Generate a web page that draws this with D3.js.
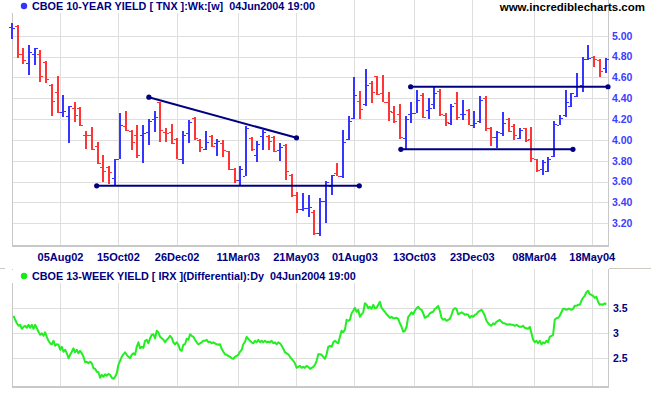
<!DOCTYPE html>
<html>
<head>
<meta charset="utf-8">
<script src="https://cdn.jsdelivr.net/npm/d3@7"></script>
<style>
  html, body { margin: 0; padding: 0; background: #fff; }
  svg { display: block; }
</style>
</head>
<body>
<div id="chart"></div>
<script>
(function() {
  'use strict';

  // --- Data ---
  var tnxTitle = 'CBOE 10-YEAR YIELD [ TNX ]:Wk:[w]\u00a0\u00a004Jun2004 19:00';
  var irxTitle = 'CBOE 13-WEEK YIELD [ IRX ](Differential):Dy\u00a0\u00a004Jun2004 19:00';
  var siteLabel = 'www.incrediblecharts.com';

  // weekly bars, one per week, first one ends Fri 07Jun02
  var firstWeek = '07Jun02';
  var weekOpen = [
    5.08,5.09,4.82,4.74,4.82,4.82,4.75,4.53,4.46,4.27,
    4.23,4.31,4.31,4.05,4.05,3.94,3.74,3.74,3.63,3.82,
    4.13,4.09,4.05,4.05,4.08,4.20,4.36,4.08,4.08,4.01,
    3.82,4.07,4.21,4.00,3.91,4.04,3.97,3.97,3.89,3.72,
    3.62,3.65,4.02,3.86,4.04,4.04,4.03,3.90,3.95,3.66,
    3.47,3.34,3.35,3.31,3.11,3.41,3.56,3.68,3.65,4.01,
    4.21,4.37,4.34,4.55,4.61,4.45,4.36,4.27,4.25,4.02,
    4.25,4.26,4.43,4.29,4.34,4.47,4.24,4.16,4.35,4.25,
    4.29,4.14,4.18,4.40,4.11,4.03,4.07,4.20,4.13,4.02,
    4.11,4.01,3.82,3.72,3.70,3.85,4.14,4.24,4.33,4.42,
    4.53,4.78,4.80,4.77,4.69
  ];
  var weekHigh = [
    5.12,5.10,4.88,4.91,4.88,4.86,4.76,4.54,4.61,4.43,
    4.33,4.36,4.32,4.09,4.12,3.98,3.86,3.75,3.82,4.26,
    4.28,4.10,4.14,4.14,4.20,4.28,4.36,4.11,4.15,4.02,
    4.09,4.19,4.22,4.01,4.09,4.05,4.01,4.00,3.89,3.73,
    3.75,4.13,4.03,3.99,4.10,4.05,4.04,3.97,3.96,3.67,
    3.50,3.49,3.47,3.33,3.44,3.61,3.66,3.78,4.10,4.23,
    4.60,4.47,4.68,4.57,4.61,4.62,4.46,4.33,4.34,4.23,
    4.36,4.48,4.45,4.40,4.51,4.49,4.26,4.34,4.46,4.38,
    4.30,4.28,4.42,4.42,4.12,4.09,4.27,4.21,4.15,4.11,
    4.11,4.12,3.82,3.81,3.84,4.18,4.24,4.48,4.45,4.64,
    4.80,4.91,4.81,4.78,4.79
  ];
  var weekLow = [
    4.97,4.79,4.73,4.62,4.72,4.56,4.55,4.23,4.26,4.22,
    3.97,4.17,4.13,3.91,3.90,3.77,3.60,3.58,3.57,3.82,
    4.09,3.90,3.83,3.78,3.95,4.08,3.98,3.98,3.96,3.82,
    3.77,3.97,4.00,3.88,3.90,3.93,3.85,3.84,3.71,3.59,
    3.56,3.65,3.89,3.79,3.90,3.90,3.88,3.80,3.62,3.45,
    3.30,3.32,3.26,3.09,3.08,3.20,3.47,3.65,3.63,4.00,
    4.20,4.20,4.33,4.35,4.43,4.36,4.18,4.16,4.01,3.91,
    4.16,4.26,4.21,4.20,4.30,4.23,4.13,4.14,4.19,4.19,
    4.14,4.11,4.16,4.09,3.94,3.92,4.04,4.08,4.00,4.01,
    3.98,3.79,3.69,3.66,3.69,3.84,4.14,4.22,4.32,4.41,
    4.46,4.77,4.70,4.60,4.64
  ];
  var weekClose = [
    5.07,4.82,4.77,4.84,4.88,4.61,4.58,4.37,4.27,4.28,
    4.33,4.24,4.14,4.05,3.91,3.78,3.70,3.69,3.82,4.14,
    4.10,3.98,3.86,4.07,4.18,4.22,4.10,4.07,3.97,3.82,
    4.05,4.17,4.02,3.93,3.98,3.94,3.99,3.90,3.72,3.62,
    3.72,4.11,3.91,3.96,4.08,3.99,3.89,3.93,3.70,3.47,
    3.34,3.35,3.36,3.11,3.41,3.60,3.66,3.65,3.98,4.18,
    4.43,4.30,4.53,4.46,4.44,4.36,4.28,4.18,4.03,4.20,
    4.26,4.38,4.22,4.31,4.45,4.25,4.17,4.33,4.22,4.25,
    4.14,4.16,4.38,4.11,4.03,4.08,4.16,4.09,4.05,4.10,
    4.00,3.83,3.71,3.79,3.82,4.15,4.21,4.36,4.45,4.52,
    4.78,4.79,4.78,4.66,4.78
  ];

  // daily 13-week yield, evenly spread from first to last day
  var irxFirstDay = '09Jun02';
  var irxLastDay = '05Jun04';
  var irxYield = [
    3.35,3.27,3.20,3.15,3.17,3.09,3.13,3.15,3.11,3.17,3.11,3.17,3.09,3.17,3.10,3.03,2.97,3.00,2.95,3.02,
    2.93,2.85,2.80,2.78,2.85,2.75,2.78,2.77,2.67,2.73,2.63,2.67,2.60,2.50,2.57,2.63,2.70,2.62,2.67,2.60,
    2.65,2.60,2.53,2.42,2.43,2.40,2.43,2.40,2.30,2.29,2.23,2.22,2.11,2.17,2.13,2.18,2.15,2.19,2.17,2.11,
    2.09,2.13,2.20,2.37,2.45,2.53,2.58,2.62,2.57,2.53,2.50,2.57,2.60,2.57,2.73,2.82,2.70,2.73,2.71,2.85,
    2.87,2.80,2.90,2.97,2.98,2.90,3.05,3.02,2.93,2.90,2.87,2.82,2.87,2.90,2.95,2.91,2.82,2.78,2.82,2.77,
    2.67,2.65,2.77,2.78,2.89,2.87,2.98,2.95,2.93,2.87,2.82,2.78,2.80,2.82,2.85,2.85,2.87,2.82,2.83,2.80,
    2.82,2.80,2.78,2.77,2.78,2.69,2.63,2.58,2.57,2.55,2.53,2.50,2.49,2.53,2.55,2.57,2.63,2.67,2.78,2.83,
    2.93,2.89,2.85,2.82,2.80,2.85,2.82,2.87,2.82,2.85,2.82,2.85,2.82,2.83,2.82,2.85,2.80,2.82,2.78,2.82,
    2.80,2.75,2.69,2.62,2.60,2.58,2.53,2.49,2.45,2.40,2.31,2.33,2.35,2.31,2.33,2.31,2.35,2.33,2.29,2.31,
    2.33,2.37,2.45,2.58,
    2.58,2.57,2.53,2.49,2.58,2.73,2.75,2.73,2.82,2.85,2.82,2.80,2.93,3.05,3.02,3.07,3.27,3.25,3.27,3.40,
    3.45,3.51,3.43,3.47,3.33,3.38,3.42,3.60,3.57,3.50,3.53,3.49,3.57,3.50,3.51,3.57,3.63,3.51,3.47,3.43,
    3.38,3.35,3.31,3.33,3.30,3.30,3.31,3.29,3.20,3.13,3.03,3.05,3.13,3.33,3.37,3.42,3.38,3.45,3.50,3.53,
    3.49,3.47,3.40,3.31,3.33,3.35,3.40,3.42,3.43,3.49,3.51,3.55,3.45,3.31,3.27,3.29,3.25,3.27,3.29,3.37,
    3.47,3.50,3.49,3.38,3.40,3.42,3.40,3.37,3.38,3.37,3.31,3.35,3.33,3.37,3.38,3.43,3.45,3.47,3.42,3.35,
    3.25,3.20,3.17,3.15,3.20,3.18,3.23,3.25,3.27,3.23,3.20,3.20,3.18,3.17,3.18,3.17,3.17,3.15,3.17,3.15,
    3.13,3.13,3.15,3.11,3.10,3.09,3.13,3.00,2.87,2.82,2.85,2.80,2.85,2.78,2.82,2.80,2.85,2.82,2.93,2.95,
    2.97,3.27,3.30,3.31,3.35,3.42,3.49,3.49,3.47,3.49,3.49,3.47,3.49,3.55,3.55,3.57,3.57,3.65,3.71,3.75,
    3.82,3.85,3.78,3.77,3.75,3.71,3.73,3.63,3.57,3.58,3.57,3.60,3.58
  ];

  var dateLabels = ['05Aug02', '15Oct02', '26Dec02', '11Mar03', '21May03',
                    '01Aug03', '13Oct03', '23Dec03', '08Mar04', '18May04'];
  var tnxTicks = [3.2, 3.4, 3.6, 3.8, 4.0, 4.2, 4.4, 4.6, 4.8, 5.0];
  var irxTicks = [2.5, 3, 3.5];

  // hand-drawn trend lines on the weekly chart
  var trendLines = [
    { from: '19Sep02', to: '07Aug03', start: 3.56, end: 3.56 },
    { from: '22Nov02', to: '22May03', start: 4.41, end: 4.02 },
    { from: '09Oct03', to: '07Jun04', start: 4.51, end: 4.51 },
    { from: '27Sep03', to: '25Apr04', start: 3.91, end: 3.91 }
  ];

  // --- Layout ---
  var width = 651, height = 395;
  var left = 12, right = 608;
  var top1 = 0, bottom1 = 246;
  var top2 = 269, bottom2 = 387;

  var font = '"Liberation Sans", Arial, sans-serif';
  var navy = '#000080';
  var gridColor = '#dedede';
  var frameColor = '#c8c8c8';
  var upColor = '#3535ff';
  var downColor = '#ff3535';

  var parse = d3.utcParse('%d%b%y');
  var labelDates = dateLabels.map(parse);

  var x = d3.scaleUtc()
    .domain([labelDates[0], labelDates[labelDates.length - 1]])
    .range([60, 591.7]);

  var yTnx = d3.scaleLinear().domain([3.2, 5.0]).range([223.3, 35.7]);
  var yIrx = d3.scaleLinear().domain([2.5, 3.5]).range([358.3, 308.3]);

  var svg = d3.select('#chart')
    .append('svg')
    .attr('width', width)
    .attr('height', height)
    .style('background', '#fff');

  // --- Panel grids ---
  function drawGrid(y, ticks, yTop, yBottom) {
    var g = svg.append('g');
    g.selectAll('line.h')
      .data(ticks)
      .join('line')
      .attr('class', 'h')
      .attr('x1', left).attr('x2', right)
      .attr('y1', function(d) { return Math.round(y(d)) + 0.5; })
      .attr('y2', function(d) { return Math.round(y(d)) + 0.5; })
      .style('stroke', gridColor);
    g.selectAll('line.v')
      .data(labelDates)
      .join('line')
      .attr('class', 'v')
      .attr('x1', function(d) { return Math.round(x(d)) + 0.5; })
      .attr('x2', function(d) { return Math.round(x(d)) + 0.5; })
      .attr('y1', yTop).attr('y2', yBottom)
      .style('stroke', gridColor);
    // frame: left, right, bottom
    g.append('line')
      .attr('x1', left + 0.5).attr('x2', left + 0.5)
      .attr('y1', yTop).attr('y2', yBottom)
      .style('stroke', frameColor);
    g.append('line')
      .attr('x1', right + 0.5).attr('x2', right + 0.5)
      .attr('y1', yTop).attr('y2', yBottom)
      .style('stroke', frameColor);
    g.append('line')
      .attr('x1', left).attr('x2', right + 1)
      .attr('y1', yBottom).attr('y2', yBottom)
      .style('stroke', frameColor)
      .style('stroke-width', 2);
  }

  drawGrid(yTnx, tnxTicks, top1, bottom1);
  drawGrid(yIrx, irxTicks, top2, bottom2);

  // separator between panels (only visible in margins)
  [[0, 5], [right + 1, width]].forEach(function(seg) {
    svg.append('line')
      .attr('x1', seg[0]).attr('x2', seg[1])
      .attr('y1', top2 - 0.5).attr('y2', top2 - 0.5)
      .style('stroke', '#cfcac0');
  });

  // --- Weekly bars ---
  var weekStart = parse(firstWeek);
  var bars = weekClose.map(function(c, i) {
    return {
      date: d3.utcDay.offset(weekStart, i * 7),
      open: weekOpen[i], high: weekHigh[i], low: weekLow[i], close: c,
      up: i === 0 || c >= weekClose[i - 1]
    };
  });

  var barG = svg.append('g')
    .selectAll('g')
    .data(bars)
    .join('g')
    .style('fill', function(d) { return d.up ? upColor : downColor; });

  barG.append('rect')
    .attr('x', function(d) { return Math.round(x(d.date)) - 1; })
    .attr('y', function(d) { return Math.round(yTnx(d.high)); })
    .attr('width', 2)
    .attr('height', function(d) { return Math.max(1, Math.round(yTnx(d.low)) - Math.round(yTnx(d.high))); });

  barG.append('rect')
    .attr('x', function(d) { return Math.round(x(d.date)) - 3; })
    .attr('y', function(d) { return Math.round(yTnx(d.open)); })
    .attr('width', 2)
    .attr('height', 1);

  barG.append('rect')
    .attr('x', function(d) { return Math.round(x(d.date)) + 1; })
    .attr('y', function(d) { return Math.round(yTnx(d.close)); })
    .attr('width', 2)
    .attr('height', 1);

  // --- Trend lines ---
  var tl = svg.append('g');
  tl.selectAll('line')
    .data(trendLines)
    .join('line')
    .attr('x1', function(d) { return x(parse(d.from)); })
    .attr('x2', function(d) { return x(parse(d.to)); })
    .attr('y1', function(d) { return yTnx(d.start); })
    .attr('y2', function(d) { return yTnx(d.end); })
    .style('stroke', '#000080')
    .style('stroke-width', 2);

  var ends = [];
  trendLines.forEach(function(d) {
    ends.push({ date: parse(d.from), v: d.start });
    ends.push({ date: parse(d.to), v: d.end });
  });
  tl.selectAll('circle')
    .data(ends)
    .join('circle')
    .attr('cx', function(d) { return x(d.date); })
    .attr('cy', function(d) { return yTnx(d.v); })
    .attr('r', 2.6)
    .style('fill', '#000080');

  // --- IRX line ---
  var irxStart = parse(irxFirstDay).getTime();
  var irxStep = (parse(irxLastDay).getTime() - irxStart) / (irxYield.length - 1);
  var irxLine = d3.line()
    .x(function(d, i) { return x(new Date(irxStart + i * irxStep)); })
    .y(function(d) { return yIrx(d); });

  svg.append('path')
    .datum(irxYield)
    .attr('d', irxLine)
    .style('fill', 'none')
    .style('stroke', '#22ee22')
    .style('stroke-width', 2)
    .style('stroke-linejoin', 'round');

  // --- Axes ---
  var xAxis = svg.append('g')
    .attr('transform', 'translate(0,' + bottom1 + ')')
    .call(d3.axisBottom(x).tickValues(labelDates)
      .tickFormat(d3.utcFormat('%d%b%y')).tickSize(0).tickPadding(7));

  var tnxAxis = svg.append('g')
    .attr('transform', 'translate(' + right + ',0)')
    .call(d3.axisRight(yTnx).tickValues(tnxTicks)
      .tickFormat(d3.format('.2f')).tickSize(0).tickPadding(4));

  var irxAxis = svg.append('g')
    .attr('transform', 'translate(' + right + ',0)')
    .call(d3.axisRight(yIrx).tickValues(irxTicks)
      .tickFormat(d3.format('')).tickSize(0).tickPadding(5));

  [xAxis, tnxAxis, irxAxis].forEach(function(a) {
    a.select('.domain').remove();
    a.selectAll('text')
      .style('font-family', font)
      .style('font-weight', 'bold')
      .style('font-size', '11px')
      .style('fill', navy);
  });
  tnxAxis.selectAll('text').style('font-size', '10.5px').style('fill', '#3d3dff');
  irxAxis.selectAll('text').style('font-size', '10.5px');

  // --- Titles ---
  function drawTitle(label, dotColor, yBase) {
    var g = svg.append('g');
    var bg = g.append('rect').style('fill', '#fff');
    g.append('circle')
      .attr('cx', 24).attr('cy', yBase - 4).attr('r', 3.2)
      .style('fill', dotColor);
    var t = g.append('text')
      .attr('x', 32).attr('y', yBase)
      .text(label)
      .style('font-family', font)
      .style('font-weight', 'bold')
      .style('font-size', '10.8px')
      .style('fill', navy);
    var bb = t.node().getBBox();
    bg.attr('x', 10).attr('y', yBase - 10)
      .attr('width', bb.x + bb.width + 3 - 10)
      .attr('height', 13);
  }

  drawTitle(tnxTitle, '#3333ff', 10);
  drawTitle(irxTitle, '#11ee11', 280);

  svg.append('text')
    .attr('x', 645).attr('y', 11)
    .attr('text-anchor', 'end')
    .text(siteLabel)
    .style('font-family', font)
    .style('font-weight', 'bold')
    .style('font-size', '11.5px')
    .style('fill', '#000');
})();
</script>
</body>
</html>
